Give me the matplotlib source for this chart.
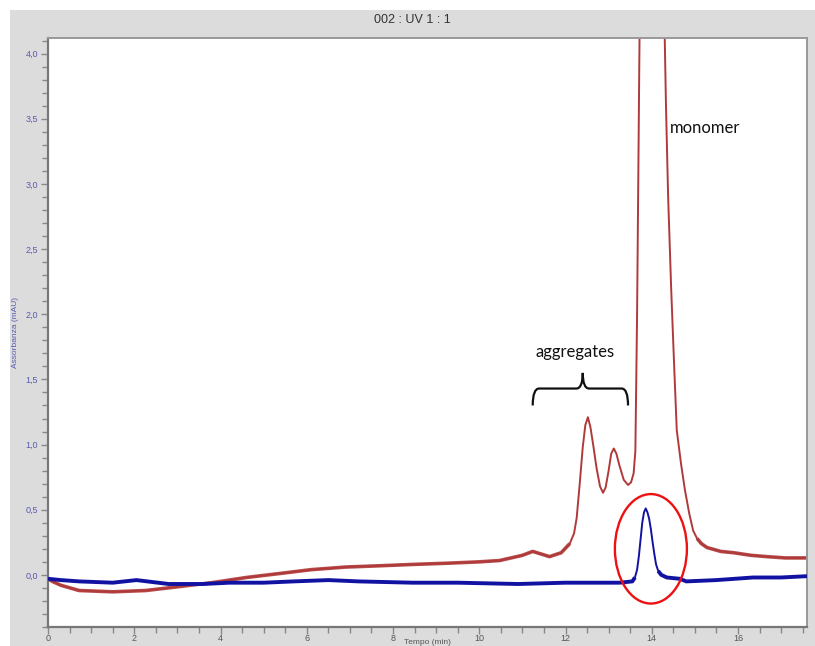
import matplotlib.pyplot as plt
from matplotlib.patches import Ellipse, Rectangle, PathPatch
from matplotlib.path import Path
from matplotlib.ticker import MultipleLocator, FuncFormatter

plt.rcParams['font.family'] = ['Liberation Sans', 'DejaVu Sans']

# sample trace (red): time (min) vs absorbance (mAU)
sample_t = [0.0, 0.1, 0.3, 0.72, 1.5, 2.27, 3.04, 3.8, 4.6, 5.36, 6.1, 6.9, 7.7,
            8.45, 9.3, 10.0, 10.47, 11.0, 11.24, 11.63, 11.9, 12.1, 12.2, 12.26,
            12.33, 12.4, 12.46, 12.52, 12.58, 12.65, 12.72, 12.8, 12.87, 12.93,
            13.0, 13.06, 13.12, 13.18, 13.25, 13.35, 13.45, 13.52, 13.58, 13.62,
            13.66, 13.70, 13.74, 13.85, 14.0, 14.15, 14.28, 14.33, 14.38, 14.45,
            14.52, 14.58, 14.68, 14.77, 14.87, 14.96, 15.05, 15.15, 15.28, 15.6,
            15.9, 16.3, 16.67, 17.1, 17.6]
sample_a = [-0.03, -0.05, -0.08, -0.12, -0.13, -0.12, -0.09, -0.06, -0.02, 0.01,
            0.04, 0.06, 0.07, 0.08, 0.09, 0.10, 0.11, 0.15, 0.18, 0.14, 0.17,
            0.24, 0.32, 0.44, 0.70, 0.98, 1.15, 1.21, 1.13, 0.98, 0.82, 0.68,
            0.63, 0.67, 0.80, 0.93, 0.97, 0.93, 0.84, 0.73, 0.69, 0.71, 0.78,
            0.95, 2.0, 3.5, 5.0, 7.5, 8.5, 7.5, 4.5, 3.6, 2.9, 2.2, 1.6, 1.11,
            0.85, 0.65, 0.47, 0.34, 0.28, 0.24, 0.21, 0.18, 0.17, 0.15, 0.14,
            0.13, 0.13]

# blank trace (blue)
blank_t = [0.0, 0.3, 0.72, 1.5, 2.05, 2.3, 2.8, 3.6, 4.2, 5.0, 5.7, 6.5, 7.2,
           8.45, 9.5, 10.9, 12.0, 13.26, 13.55, 13.61, 13.66, 13.70, 13.74,
           13.78, 13.82, 13.86, 13.90, 13.94, 13.98, 14.02, 14.06, 14.10, 14.15,
           14.22, 14.35, 14.65, 14.8, 15.5, 16.35, 17.0, 17.6]
blank_a = [-0.03, -0.04, -0.05, -0.06, -0.04, -0.05, -0.07, -0.07, -0.06,
           -0.06, -0.05, -0.04, -0.05, -0.06, -0.06, -0.07, -0.06, -0.06, -0.05,
           -0.02, 0.04, 0.14, 0.27, 0.40, 0.48, 0.51, 0.48, 0.43, 0.35, 0.25,
           0.16, 0.08, 0.03, 0.0, -0.02, -0.03, -0.05, -0.04, -0.02, -0.02,
           -0.01]

x_ticks = [0, 2, 4, 6, 8, 10, 12, 14, 16]

RED = '#b03a3a'
BLUE = '#1212a2'

fig = plt.figure(figsize=(8.15, 6.46), dpi=100)
fig.patch.set_facecolor('white')
fig.patches.append(Rectangle((10 / 815, 0), 805 / 815, 636 / 646,
                             transform=fig.transFigure, facecolor='#dcdcdc',
                             edgecolor='none', zorder=-10))

ax = fig.add_axes([48 / 815, 19 / 646, 759 / 815, 589 / 646])
ax.set_facecolor('white')


def split(t, a, lo, hi):
    # baseline stretches outside the peak window get a wider stroke
    left = [(ti, ai) for ti, ai in zip(t, a) if ti <= lo]
    right = [(ti, ai) for ti, ai in zip(t, a) if ti >= hi]
    return left, right


ax.plot(sample_t, sample_a, color=RED, lw=1.4, zorder=2)
for seg in split(sample_t, sample_a, 12.1, 15.05):
    ax.plot(*zip(*seg), color=RED, lw=2.6, alpha=0.9, zorder=2,
            solid_capstyle='butt')

ax.plot(blank_t, blank_a, color=BLUE, lw=1.4, zorder=3)
for seg in split(blank_t, blank_a, 13.61, 14.15):
    ax.plot(*zip(*seg), color=BLUE, lw=2.8, zorder=3, solid_capstyle='butt')

ax.set_xlim(0, 17.6)
ax.set_ylim(-0.40, 4.12)

ax.xaxis.set_major_locator(MultipleLocator(2))
ax.xaxis.set_minor_locator(MultipleLocator(0.5))
ax.yaxis.set_major_locator(MultipleLocator(0.5))
ax.yaxis.set_minor_locator(MultipleLocator(0.1))
ax.yaxis.set_major_formatter(FuncFormatter(lambda v, p: f'{v:.1f}'.replace('.', ',')))
ax.set_xticks(x_ticks)

ax.tick_params(axis='both', which='both', direction='out', color='#888888', width=1)
ax.tick_params(axis='both', which='major', length=5)
ax.tick_params(axis='both', which='minor', length=4)
ax.tick_params(axis='y', labelsize=6.5, labelcolor='#5a5ab0', pad=2)
ax.tick_params(axis='x', labelsize=6.5, labelcolor='#555555', pad=0)

for side in ['left', 'bottom']:
    ax.spines[side].set_color('#777777')
    ax.spines[side].set_linewidth(1.6)
for side in ['top', 'right']:
    ax.spines[side].set_color('#999999')
    ax.spines[side].set_linewidth(1.4)

ax.set_ylabel('Assorbanza (mAU)', fontsize=6, color='#5a5ab0', labelpad=5)
fig.text(427 / 815, 0, 'Tempo (min)', ha='center', va='bottom',
         fontsize=6, color='#555555')

fig.text(412 / 815, 1 - 20 / 646, '002 : UV 1 : 1', ha='center', va='center',
         fontsize=9, color='#333333')

# annotations
ax.text(12.22, 1.71, 'aggregates', ha='center', va='center', fontsize=12,
        family='Lato', color='#111111')
ax.text(14.42, 3.43, 'monomer', ha='left', va='center', fontsize=12,
        family='Lato', color='#111111')

# curly brace over the aggregate peaks
x0, xm, x1 = 11.24, 12.40, 13.45
yb, yh, yt = 1.30, 1.43, 1.55
verts = [(x0, yb), (x0, yh), (x0 + 0.15, yh),
         (xm - 0.15, yh), (xm, yh), (xm, yt),
         (xm, yh), (xm + 0.15, yh),
         (x1 - 0.15, yh), (x1, yh), (x1, yb)]
codes = [Path.MOVETO, Path.CURVE3, Path.CURVE3,
         Path.LINETO, Path.CURVE3, Path.CURVE3,
         Path.CURVE3, Path.CURVE3,
         Path.LINETO, Path.CURVE3, Path.CURVE3]
ax.add_patch(PathPatch(Path(verts, codes), facecolor='none', edgecolor='#111111',
                       lw=1.6, zorder=4))

# highlight around the blank peak
ax.add_patch(Ellipse((13.98, 0.20), 1.67, 0.84, facecolor='none',
                     edgecolor='#ee1111', lw=1.7, zorder=5))

fig.savefig('out.png', dpi=100)
